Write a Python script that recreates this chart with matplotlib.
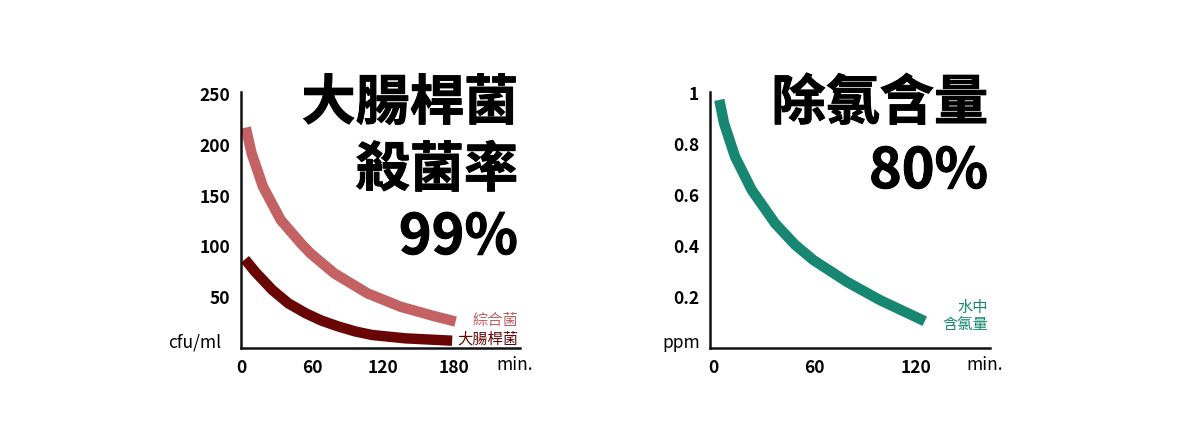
import matplotlib.pyplot as plt
import matplotlib.patheffects as pe

plt.rcParams['font.family'] = ['Noto Sans CJK TC', 'DejaVu Sans']

# left chart: bacteria count (cfu/ml) over time (min.)
mixed_t = [4, 9, 18.6, 33.6, 50.7, 58.9, 78.9, 107, 135, 163, 181.5]
mixed_v = [217, 191.6, 158.8, 126, 103, 93, 73.5, 53.8, 40.6, 31.5, 26]
ecoli_t = [3.4, 12, 26.5, 40, 54.7, 68, 82.8, 97, 111, 139, 178.6]
ecoli_v = [87.3, 75, 57.1, 44, 34.2, 27, 21, 16.2, 12.8, 9.5, 7.2]
left_yticks = [50, 100, 150, 200, 250]
left_xticks = [0, 60, 120, 180]

# right chart: chlorine in water (ppm) over time (min.)
chlor_t = [3.7, 6.5, 13, 22.8, 36.6, 48.4, 59.2, 78.9, 98.5, 125]
chlor_v = [0.973, 0.881, 0.75, 0.62, 0.489, 0.405, 0.345, 0.26, 0.188, 0.105]
right_yticks = [0.2, 0.4, 0.6, 0.8, 1]
right_ytick_labels = ['0.2', '0.4', '0.6', '0.8', '1']
right_xticks = [0, 60, 120]

light_red = '#c46162'
dark_red = '#6a0505'
green = '#178771'

fig = plt.figure(figsize=(12, 4.47), dpi=100)
ax1 = fig.add_axes([241 / 1200, 99 / 447, 279 / 1200, 256 / 447])
ax2 = fig.add_axes([710 / 1200, 99 / 447, 280 / 1200, 256 / 447])

line_kw = dict(lw=7.5, solid_capstyle='butt', solid_joinstyle='round')
ax1.plot(mixed_t, mixed_v, color=light_red, **line_kw)
ax1.plot(ecoli_t, ecoli_v, color=dark_red, **line_kw)
ax1.set_xlim(0, 236)
ax1.set_ylim(0, 252)
ax1.set_yticks(left_yticks)
ax1.set_xticks(left_xticks)

ax2.plot(chlor_t, chlor_v, color=green, **line_kw)
ax2.set_xlim(-1.8, 163.5)
ax2.set_ylim(0, 1.004)
ax2.set_yticks(right_yticks)
ax2.set_yticklabels(right_ytick_labels)
ax2.set_xticks(right_xticks)

for ax in (ax1, ax2):
    for s in ('top', 'right'):
        ax.spines[s].set_visible(False)
    for s in ('left', 'bottom'):
        ax.spines[s].set_linewidth(1.8)
        ax.spines[s].set_color('#111111')
    ax.tick_params(length=0, labelsize=12.5, pad=8)
    for lab in ax.get_xticklabels() + ax.get_yticklabels():
        lab.set_fontweight('bold')
    ax.text(0.982, -0.065, 'min.', transform=ax.transAxes, ha='center', va='center', fontsize=12.5)

ax1.text(-0.07, 0.02, 'cfu/ml', transform=ax1.transAxes, ha='right', va='center', fontsize=12.5)
ax2.text(-0.035, 0.02, 'ppm', transform=ax2.transAxes, ha='right', va='center', fontsize=12.5)

# big titles
def ftext(x, y, s, **kw):
    fig.text(x / 1200, 1 - y / 447, s, ha='right', va='center', **kw)

heavy = [pe.withStroke(linewidth=0.7, foreground='black')]
ftext(518, 104, '大腸桿菌', fontsize=39, fontweight='black', path_effects=heavy)
ftext(518, 171, '殺菌率', fontsize=39, fontweight='black', path_effects=heavy)
ftext(518, 238, '99%', fontsize=40, fontweight='black', path_effects=heavy)
ftext(988, 104, '除氯含量', fontsize=39, fontweight='black', path_effects=heavy)
ftext(988, 172, '80%', fontsize=40, fontweight='black', path_effects=heavy)

# series labels
ftext(518, 321, '綜合菌', fontsize=11, color=light_red)
ftext(518, 339, '大腸桿菌', fontsize=11, color=dark_red)
ftext(988, 307, '水中', fontsize=11, color=green)
ftext(988, 325, '含氯量', fontsize=11, color=green)

fig.savefig('out.png', dpi=100)
